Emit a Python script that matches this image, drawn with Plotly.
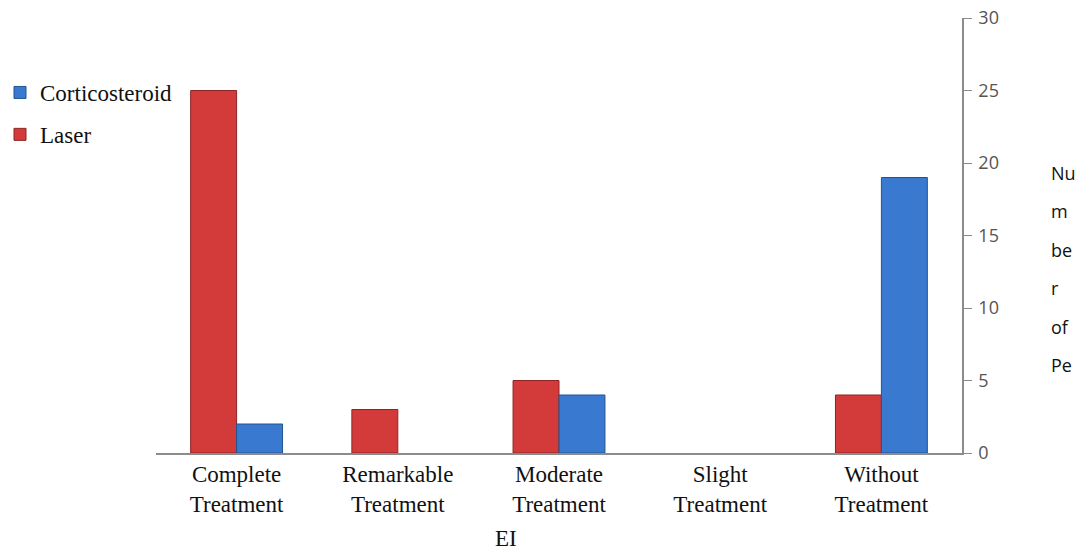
import plotly.graph_objects as go

categories = ["Complete<br>Treatment", "Remarkable<br>Treatment", "Moderate<br>Treatment",
              "Slight<br>Treatment", "Without<br>Treatment"]
laser = [25, 3, 5, 0, 4]
corticosteroid = [2, 0, 4, 0, 19]
y_ticks = [0, 5, 10, 15, 20, 25, 30]
y_title_parts = ["Nu", "m", "be", "r", "of", "Pe"]


def outline_widths(values):
    # no outline on empty bars so they leave no stub on the baseline
    return [1 if v > 0 else 0 for v in values]


fig = go.Figure()
fig.add_trace(go.Bar(
    x=categories, y=laser, name="Laser", legendgroup="laser", legendrank=2,
    marker=dict(color="#D33B3B",
                line=dict(color="#8E2424", width=outline_widths(laser))),
))
fig.add_trace(go.Bar(
    x=categories, y=corticosteroid, name="Corticosteroid", legendgroup="cortico",
    legendrank=1,
    marker=dict(color="#3979D0",
                line=dict(color="#22558F", width=outline_widths(corticosteroid))),
))

# vertical axis title, broken into short fragments down the right side
for i, part in enumerate(y_title_parts):
    fig.add_annotation(
        text=part, xref="paper", yref="paper", x=1.108, y=0.644 - i * 0.0883,
        xanchor="left", yanchor="middle", showarrow=False,
        font=dict(family="Open Sans", size=18, color="#111111"),
    )

# horizontal axis title
fig.add_annotation(
    text="EI", xref="paper", yref="paper", x=0.434, y=-0.196,
    xanchor="center", yanchor="middle", showarrow=False,
    font=dict(family="Liberation Serif", size=23, color="#111111"),
)

fig.update_layout(
    width=1086, height=552,
    margin=dict(l=156, r=124, t=18, b=99, autoexpand=False),
    paper_bgcolor="white", plot_bgcolor="white",
    barmode="group", bargap=0.43, bargroupgap=0,
    showlegend=True,
    legend=dict(
        xref="container", yref="container",
        x=0.0, y=1 - 71 / 552, xanchor="left", yanchor="top",
        traceorder="grouped", tracegroupgap=9,
        font=dict(family="Liberation Serif", size=23, color="#111111"),
        bgcolor="rgba(0,0,0,0)", itemwidth=30,
    ),
    xaxis=dict(
        showline=True, linecolor="#8C8C8C", linewidth=1.5,
        ticks="", showgrid=False, automargin=False,
        tickfont=dict(family="Liberation Serif", size=23, color="#111111"),
    ),
    yaxis=dict(
        side="right", range=[0, 30], tickvals=y_ticks,
        showline=True, linecolor="#8C8C8C", linewidth=1.5,
        ticks="outside", ticklen=8, tickcolor="#8C8C8C", tickwidth=1,
        ticklabelstandoff=3,
        showgrid=False, zeroline=False, automargin=False,
        tickfont=dict(family="Open Sans", size=18, color="#555555"),
    ),
)

fig.write_html("out.html")
